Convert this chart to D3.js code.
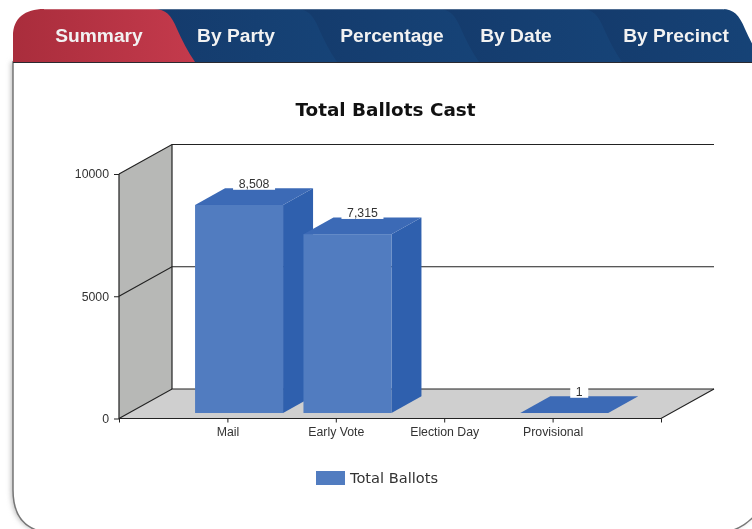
<!DOCTYPE html>
<html lang="en">
<head>
  <meta charset="UTF-8">
  <title>Total Ballots Cast</title>
  <script src="https://d3js.org/d3.v7.min.js"></script>
  <style>
    html, body { width: 100%; height: 100%; margin: 0; padding: 0; overflow: hidden; background: #fff; }
    svg { display: block; filter: blur(0.4px); }
    .tick-label { font: 12.3px "Liberation Sans", sans-serif; fill: #333; }
    .tab-label { font: bold 19.2px "Liberation Sans", sans-serif; fill: #f2f2f2; }
    .axis path { display: none; }
    .axis line { stroke: #222; }
  </style>
</head>
<body>
  <svg id="chart" width="752" height="529"></svg>
  <script>
  // data
  const categories = ["Mail", "Early Vote", "Election Day", "Provisional"];
  const ballots = [8508, 7315, 0, 1];
  const valueLabels = ["8,508", "7,315", "", "1"];
  const yTicks = [0, 5000, 10000];
  const tabs = ["Summary", "By Party", "Percentage", "By Date", "By Precinct"];
  const seriesName = "Total Ballots";

  const svg = d3.select("#chart");
  const defs = svg.append("defs");

  // fake 3d depth of the plot box
  const depthX = 53, depthY = -29.5;
  const barFront = 0.22, barBack = 0.786;
  const barWidth = 88;

  // the source chart leaves one empty slot either side of the categories
  const x = d3.scalePoint().domain(["start", ...categories, "end"]).range([119, 661]);
  const y = d3.scaleLinear().domain([0, 10000]).range([418.5, 174]);

  const line = d3.line();

  // ---- panel
  const shadow = defs.append("filter").attr("id", "soft")
    .attr("x", "-5%").attr("width", "110%");
  shadow.append("feGaussianBlur").attr("stdDeviation", 2.5);

  const panelPath = "M13,62 L13,490 Q13,531 52,533 L715,533 Q740,533 756,514 L756,62 Z";
  svg.append("path")
    .attr("d", panelPath)
    .attr("transform", "translate(-2,0)")
    .attr("fill", "#bbb").attr("filter", "url(#soft)");
  svg.append("path")
    .attr("d", panelPath)
    .attr("fill", "#fff").attr("stroke", "#777").attr("stroke-width", 1.5);

  // ---- tabs
  const blue = defs.append("linearGradient").attr("id", "blueTab");
  blue.append("stop").attr("offset", "0%").attr("stop-color", "#143a6b");
  blue.append("stop").attr("offset", "100%").attr("stop-color", "#164377");
  const red = defs.append("linearGradient").attr("id", "redTab");
  red.append("stop").attr("offset", "0%").attr("stop-color", "#a92d3c");
  red.append("stop").attr("offset", "100%").attr("stop-color", "#c43a4c");

  const tabEdges = [158, 300, 442, 585, 726];
  const tabLabelX = [99, 236, 392, 516, 676];
  const tabTop = 9, tabBottom = 62;

  // right to left so each tab overlaps the next one
  tabs.map((t, i) => i).reverse().forEach(i => {
    const tabLeft = i === 0 ? 13 : tabEdges[i - 1] - 20;
    const r = tabEdges[i];
    const corner = i === 0
      ? `M13,${tabBottom} L13,36 C13,18 25,${tabTop} 44,${tabTop}`
      : `M${tabLeft},${tabBottom} L${tabLeft},${tabTop}`;
    svg.append("path")
      .attr("d", `${corner} L${r - 4},${tabTop} C${r + 8},${tabTop} ${r + 13},15 ${r + 19},29 C${r + 24},40 ${r + 30},52 ${r + 37},${tabBottom} Z`)
      .attr("fill", i === 0 ? "url(#redTab)" : "url(#blueTab)");
  });
  svg.append("path")
    .attr("d", `M44,${tabTop + 0.5} L724,${tabTop + 0.5}`)
    .attr("stroke", "#fff").attr("stroke-opacity", 0.25);
  svg.append("line").attr("x1", 13).attr("x2", 752).attr("y1", 62.5).attr("y2", 62.5)
    .attr("stroke", "#2a2a30").attr("stroke-width", 1.2);

  svg.selectAll(".tab-label").data(tabs).join("text")
    .attr("class", "tab-label")
    .attr("x", (d, i) => tabLabelX[i])
    .attr("y", 42)
    .attr("text-anchor", "middle")
    .text(d => d);

  // ---- title
  svg.append("text")
    .attr("x", 385.5).attr("y", 116)
    .attr("text-anchor", "middle")
    .style("font", "bold 18.4px 'DejaVu Sans', sans-serif")
    .style("fill", "#111")
    .text("Total Ballots Cast");

  // ---- walls and floor
  const left = x.range()[0], right = x.range()[1];
  const y0 = y(0), yMax = y(10000);

  svg.append("path")
    .attr("d", line([[left, yMax], [left + depthX, yMax + depthY], [left + depthX, y0 + depthY], [left, y0]]) + "Z")
    .attr("fill", "#b7b8b6");
  svg.append("path")
    .attr("d", line([[left, y0], [left + depthX, y0 + depthY], [right + depthX, y0 + depthY], [right, y0]]) + "Z")
    .attr("fill", "#cfcfcf");

  const frame = svg.append("g").attr("fill", "none").attr("stroke", "#222").attr("stroke-width", 1.2);
  yTicks.forEach(v => {
    frame.append("path").attr("d", line([
      [left, y(v)], [left + depthX, y(v) + depthY], [right + depthX, y(v) + depthY]
    ]));
  });
  frame.append("path").attr("d", line([[left + depthX, yMax + depthY], [left + depthX, y0 + depthY]]));
  frame.append("path").attr("d", line([[left, yMax], [left, y0], [right, y0], [right + depthX, y0 + depthY]]));

  // ---- axes
  svg.append("g").attr("class", "axis")
    .attr("transform", `translate(${left},0)`)
    .call(d3.axisLeft(y).tickValues(yTicks).tickFormat(d3.format("d")).tickSize(5).tickPadding(5))
    .selectAll("text").attr("class", "tick-label");

  svg.append("g").attr("class", "axis")
    .attr("transform", `translate(0,${y0})`)
    .call(d3.axisBottom(x).tickSize(4).tickPadding(5).tickFormat(d => categories.includes(d) ? d : ""))
    .selectAll("text").attr("class", "tick-label");

  // ---- bars, drawn from back to front
  const barColors = { front: "#517cc0", top: "#3c6ab6", side: "#2f60ae" };

  const bars = svg.selectAll(".bar")
    .data(categories.map((c, i) => ({ cat: c, value: ballots[i], label: valueLabels[i] })).filter(d => d.value > 0))
    .join("g").attr("class", "bar");

  const baseY = 413;
  const heightOf = v => y(0) - y(v);
  const fx = d => x(d.cat) - barWidth / 2 + depthX * barFront;
  const ox = depthX * (barBack - barFront), oy = depthY * (barBack - barFront);

  // tiny values still get their top face, as in the source chart
  bars.append("path")
    .attr("fill", barColors.side)
    .attr("d", d => {
      const a = fx(d) + barWidth, t = baseY - heightOf(d.value);
      return line([[a, baseY], [a, t], [a + ox, t + oy], [a + ox, baseY + oy]]) + "Z";
    });
  bars.append("path")
    .attr("fill", barColors.top)
    .attr("d", d => {
      const a = fx(d), t = baseY - heightOf(d.value);
      return line([[a, t], [a + ox, t + oy], [a + barWidth + ox, t + oy], [a + barWidth, t]]) + "Z";
    });
  bars.append("rect")
    .attr("fill", barColors.front)
    .attr("x", fx)
    .attr("y", d => baseY - heightOf(d.value))
    .attr("width", barWidth)
    .attr("height", d => heightOf(d.value));

  // ---- value labels with their small white boxes
  const labels = svg.selectAll(".value").data(bars.data()).join("g").attr("class", "value")
    .attr("transform", d => {
      const cx = fx(d) + barWidth / 2 + ox / 2;
      return `translate(${cx},${baseY - heightOf(d.value) + oy})`;
    });
  labels.append("rect")
    .attr("x", d => -(d.label.length * 3 + 6))
    .attr("width", d => 2 * (d.label.length * 3 + 6))
    .attr("y", -11).attr("height", 12.5)
    .attr("fill", "#fff");
  labels.append("text")
    .attr("class", "tick-label")
    .attr("y", 0)
    .attr("text-anchor", "middle")
    .text(d => d.label);

  // ---- legend
  svg.append("rect").attr("x", 316).attr("y", 471).attr("width", 29).attr("height", 14).attr("fill", barColors.front);
  svg.append("text")
    .attr("x", 350).attr("y", 483)
    .style("font", "14.6px 'DejaVu Sans', sans-serif")
    .style("fill", "#333")
    .text(seriesName);
  </script>
</body>
</html>
